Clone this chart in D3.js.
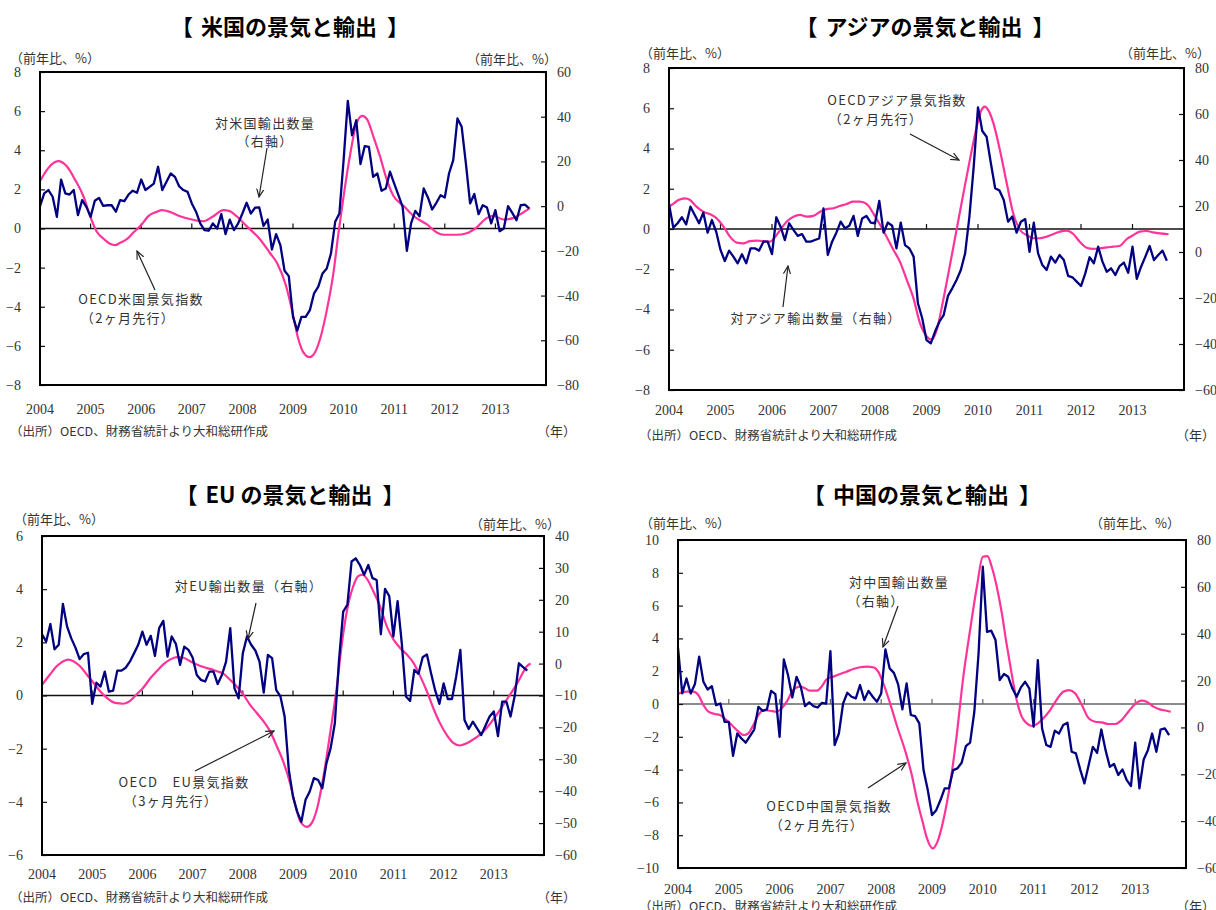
<!DOCTYPE html>
<html><head><meta charset="utf-8">
<script src="https://cdn.jsdelivr.net/npm/d3@7"></script>
<style>
body{margin:0;background:#fff;}
svg text{font-family:"Liberation Serif","DejaVu Serif",serif;fill:#333;}
svg text.jp{font-family:"Noto Sans CJK JP","Noto Sans",sans-serif;}
</style></head><body>
<svg id="c" width="1216" height="910"></svg>
<script>
// ---------- data ----------
const years = [2004,2005,2006,2007,2008,2009,2010,2011,2012,2013];

// monthly export volume y/y (right axis), Jan 2004 onward
const usExports = [0,5.7,7.2,4.2,-4.8,11.9,5.7,5.2,7.2,-4,
 2.7,-0.3,-4.8,2.4,3.7,0.1,0.4,0.4,-2.5,2.7,
 2.2,5.2,6.9,6,11.9,7.2,8.6,10.1,17.6,7.2,
 10.9,14.6,13.1,8.9,7.2,6.4,1.2,-2.5,-7.7,-10.7,
 -11,-7.7,-10,-3.6,-12.5,-6,-10.7,-7.7,-3.3,1.5,
 -3.3,-0.7,-0.6,-8.8,-6,-19.4,-12.5,-17.4,-28.9,-31.3,
 -49.5,-55.7,-49.5,-49.5,-46.5,-39,-36,-30.1,-27.9,-21.2,
 -7,-3.3,20.6,47.1,31.7,38.4,18.8,26.8,26.5,13.1,
 14.6,6.9,7.9,15.4,10.1,4.9,-0.3,-20,-7.7,-2.1,
 -4.5,7.9,3.9,-1.5,1.5,4.9,3.9,14.6,20.6,39.2,
 35.5,19.1,1.2,5.4,-3.6,0.4,-0.6,-7.7,-1.8,-11.2,
 -10,0,-3,-6.3,0.4,0.7,-1];

const asiaExports = [20.9,10.6,12.5,15.1,12,19.7,16.1,12.5,17.1,8.4,
 13.9,8.8,0.9,-3.9,0.6,-2,-4.9,-1,-4.9,1.6,
 1.6,0.6,4.5,4.5,-0.9,15.1,11,5.2,12.5,9.6,
 7,7.8,4.5,4.5,5.2,5.9,19,-1.3,4.5,8.4,
 13.2,10.3,11.4,15.7,7,14.6,15.7,12.8,12.5,22.2,
 8.4,12.8,11.4,1.6,12.8,3,1.6,-2,-22.3,-28.8,
 -38.3,-39.7,-34.6,-30.3,-27.4,-19.1,-15.8,-12.2,-7.8,-0.6,
 15.4,37.1,62.9,52.6,50.1,38.6,27.7,26.7,22.6,13.2,
 15.4,8.4,13.2,14.3,0.1,12.8,-0.6,-5.7,-7.8,-2,
 -4.6,-1.3,-3.5,-10.4,-11,-12.9,-14.8,-9.3,-2.3,-4.9,
 2.3,-4.2,-8.6,-7.1,-10,-6.1,-4.6,-9,2.3,-11.7,
 -6.4,-2,2.6,-3.5,-1.3,0.6,-3.8];

const euExports = [9.2,6.9,12.4,4.5,5.9,18.7,11.6,7.9,5,1.4,
 3,3.4,-12.6,-6,-7.2,-2.5,-8.8,-8.5,-2.2,-2.2,
 -1.3,0.6,3.2,5.9,10,5.9,8.7,2.4,11.1,13.4,
 2.2,8.5,6.2,-0.4,5.3,4.3,1.9,-3.6,-5.1,-5.6,
 -2.5,-2.5,-6.4,-3.6,0.6,11.1,-7.7,-10.9,3.2,8.5,
 5.9,4.1,0.6,-9.1,2.7,1.7,-8.3,-10.3,-16.6,-33.3,
 -41.7,-46.4,-49.6,-42.7,-40.1,-35.9,-36.5,-39.1,-31.2,-26.5,
 -18.7,1.1,16.3,18.4,32,33,30.9,27.8,30.9,26.8,
 26.2,9.2,23.4,21.2,8.5,19.6,6.4,-10.3,-11.7,-2,
 -3.2,2,2.9,-3,-8.5,-12.6,-6.2,-11.1,-11.1,-4.1,
 4.3,-17.7,-20.5,-18.2,-20.3,-22.4,-19.5,-16.6,-15,-22.7,
 -11.9,-11.9,-16.6,-10.1,0.1,-1.1,-2.2];

const chinaExports = [34.1,14.5,20.9,14.5,18.5,30.2,19.5,16.2,17.6,9.5,
 10.2,2.4,2.4,-12.1,-2.6,-4.7,-6.5,-3.7,-0.9,8.8,
 7.1,7.7,15.6,14.2,-4,29,22.3,12.8,21.6,17.4,
 9.1,10.7,9.1,8.5,10.5,10.2,32.6,-7.5,-2.6,10.2,
 14.8,13.1,12.4,18.1,11.7,15.6,13.1,11,14.5,33.3,
 25.2,23.3,18.4,7.7,18.8,5.3,4.8,1.7,-18.2,-26.7,
 -37.4,-35.3,-31,-26,-26,-18.2,-17.5,-15.1,-8,-6.5,
 6.7,31.6,68.6,40.8,41.3,37.3,20.2,22.8,21.6,16.6,
 13.1,17.1,19.5,16.6,0.3,28.7,-0.4,-7.5,-8.3,-1.4,
 -2.6,1,2,-10.4,-11.1,-17.9,-23.9,-16.1,-8.3,-10.8,
 -0.9,-9.7,-16.8,-15.6,-20.3,-17.9,-22.5,-25,-6.5,-26,
 -13.7,-9.7,-2.6,-10.4,-0.9,-0.4,-3.3];

// OECD leading indicator readings (left axis): [month index from Jan 2004, value]
const usCLI = [[0,2.42],[2,3.1],[4.3,3.44],[6.3,3.19],[8.3,2.5],[10.3,1.65],[11.9,0.63],[13.4,-0.14],[15,-0.51],[16.6,-0.78],[17.8,-0.85],[19,-0.73],[20.5,-0.56],[22.1,-0.22],[24.1,0.2],[25.7,0.63],[27.7,0.85],[28.9,0.94],[30.8,0.85],[33.2,0.63],[36,0.46],[38.7,0.37],[41.1,0.63],[43.5,0.94],[45,0.89],[46.6,0.63],[49,0.12],[52.2,-0.56],[54.5,-1.24],[56.3,-1.8],[58.3,-2.9],[59.8,-4.2],[61.2,-5.6],[62.5,-6.35],[63.9,-6.58],[64.8,-6.47],[66.4,-5.66],[67.9,-4.3],[69.6,-2.26],[70.8,-0.2],[71.9,1.5],[73.5,3.71],[75.1,5.4],[76.4,5.76],[77.6,5.57],[79,4.74],[80.6,3.71],[82.2,2.52],[83.8,1.67],[86.2,1.16],[88.5,0.65],[91.7,0.22],[94.1,-0.2],[95.7,-0.32],[98.8,-0.32],[101.2,-0.24],[103.5,0.05],[105.9,0.53],[107.5,0.65],[109.9,0.46],[112.2,0.53],[114.6,0.82],[116.2,1.04]];

const asiaCLI = [[0,1.12],[0.6,1.19],[2.2,1.44],[3.7,1.52],[4.9,1.44],[6.4,1.11],[8,0.86],[9.6,0.73],[11.1,0.53],[12.7,0.12],[14.2,-0.38],[15.8,-0.68],[17.3,-0.71],[18.9,-0.6],[20.4,-0.58],[22,-0.6],[23.5,-0.63],[24.5,-0.46],[25.9,-0.05],[27.4,0.36],[29,0.61],[30.5,0.7],[32.1,0.61],[33.6,0.65],[35.2,0.86],[36.7,0.99],[38.3,1.03],[39.8,1.14],[41.4,1.24],[42.9,1.36],[44.5,1.36],[46.1,1.24],[47.6,0.78],[49.2,0.2],[50.7,-0.38],[52.3,-1.04],[53.8,-1.62],[55.4,-2.53],[56.9,-3.4],[58.5,-4.69],[60.1,-5.35],[61.2,-5.5],[62.4,-5.0],[63.9,-3.53],[65.4,-1.87],[67,-0.05],[68.6,1.77],[70.1,3.43],[71.7,5.08],[72.8,5.91],[73.6,6.08],[74.4,5.91],[75.6,5.25],[77.1,3.92],[78.7,2.27],[80.2,0.78],[81.8,-0.05],[83.3,-0.3],[84.9,-0.46],[86.4,-0.46],[88,-0.38],[89.5,-0.26],[91.1,-0.13],[92.7,-0.08],[94.2,-0.25],[95.7,-0.63],[97.3,-0.93],[98.9,-0.99],[100.4,-0.96],[102,-0.91],[103.5,-0.88],[105.1,-0.83],[106.6,-0.51],[108.2,-0.3],[109.7,-0.13],[111.3,-0.1],[112.8,-0.17],[114.4,-0.22],[116.4,-0.26]];

const euCLI = [[0,0.4],[1.9,0.79],[3.5,1.1],[5.1,1.29],[6.3,1.35],[7.5,1.29],[9.1,1.1],[10.7,0.79],[12.3,0.48],[13.9,0.16],[15.5,-0.09],[17.5,-0.28],[19.4,-0.31],[21,-0.21],[22.6,0.04],[24.2,0.29],[25.8,0.63],[27.4,0.91],[29,1.17],[30.6,1.35],[32.2,1.44],[33.8,1.42],[35.4,1.29],[37,1.17],[38.6,1.07],[40.2,1],[41.8,0.91],[43.3,0.83],[44.9,0.6],[46.5,0.35],[48.1,0.04],[49.7,-0.34],[51.3,-0.65],[52.9,-0.96],[54.5,-1.34],[56.1,-1.9],[57.7,-2.5],[59.3,-3.3],[60.5,-4.1],[61.7,-4.72],[63.3,-4.94],[64.5,-4.79],[65.7,-4.29],[67.3,-3.03],[68.9,-1.4],[70.5,0.35],[71.6,1.85],[72.8,3.11],[74.4,4.11],[75.6,4.49],[76.6,4.55],[77.8,4.36],[79.2,3.92],[80.8,3.36],[82.4,2.61],[84,2.11],[85.6,1.79],[87.2,1.54],[88.8,1.23],[90.4,0.73],[92,0.16],[93.5,-0.46],[95.1,-1.03],[96.7,-1.47],[98.3,-1.78],[99.9,-1.88],[101.5,-1.8],[103.1,-1.65],[104.7,-1.47],[106.3,-1.22],[107.9,-0.9],[109.5,-0.53],[111.1,-0.15],[112.7,0.23],[114.3,0.66],[115.9,1.1],[116.8,1.2]];

const chinaCLI = [[0,0.62],[2,0.75],[3.6,0.75],[4.8,0.55],[6,-0.06],[7.2,-0.47],[8.7,-0.61],[9.9,-0.67],[11.1,-0.91],[12.7,-1.28],[14.3,-1.69],[15.6,-1.89],[16.6,-1.79],[17.8,-1.28],[19,-0.67],[20.2,-0.37],[21.7,-0.41],[23.3,-0.47],[24.5,-0.26],[25.7,0.14],[27.2,0.85],[28.8,1.06],[30,0.96],[31.2,0.81],[32.8,0.81],[33.9,1.06],[35.1,1.5],[36.7,1.67],[38.3,1.83],[39.8,1.97],[41.4,2.13],[43,2.24],[44.6,2.28],[46.1,2.24],[47.3,1.97],[48.5,1.26],[50.1,0.04],[51.8,-1.4],[53.6,-2.8],[55.2,-4.3],[56.6,-6.0],[57.8,-7.2],[58.7,-8.1],[60.2,-8.8],[61.3,-8.39],[62.7,-7.07],[64.3,-4.84],[65.8,-1.99],[67.4,1.67],[69,4.51],[70.6,7.15],[72,8.98],[73.1,9.02],[74.1,8.37],[75.3,7.15],[76.5,5.53],[77.6,3.7],[78.8,1.87],[80,0.24],[81.2,-0.77],[82.4,-1.18],[83.6,-1.34],[84.8,-1.22],[86.3,-0.87],[87.9,-0.37],[89.4,0.24],[91,0.75],[92.4,0.85],[93.8,0.65],[95.4,-0.06],[97,-0.87],[98.5,-1.08],[100.1,-1.12],[101.6,-1.22],[103.2,-1.22],[104.8,-0.98],[106.4,-0.47],[107.9,-0.02],[109.5,0.2],[110.7,0.14],[112.3,-0.16],[113.8,-0.33],[115.4,-0.41],[116.4,-0.47]];

// axis ranges [min, max, step]
const usLeft = [-8,8,2], usRight = [-80,60,20];
const asiaLeft = [-8,8,2], asiaRight = [-60,80,20];
const euLeft = [-6,6,2], euRight = [-60,40,10];
const chinaLeft = [-10,10,2], chinaRight = [-60,80,20];

const unitText = "（前年比、%）";
const sourceText = "（出所）OECD、財務省統計より大和総研作成";
const yearUnit = "（年）";

// ---------- layout ----------
const panels = [
 {title:"米国の景気と輸出", tx:290, ty:25, box:{l:40,r:546,t:72,b:385},
  left:usLeft, right:usRight, exp:usExports, cli:usCLI, zero:"#111",
  unitL:[10,57], unitR:[467,58], yearY:409, src:[10,430], yu:[576,430],
  notes:[{t:"対米国輸出数量",x:265,y:122},{t:"（右軸）",x:265,y:140},
         {t:"OECD米国景気指数",x:141,y:298},{t:"（2ヶ月先行）",x:128,y:317}],
  arrows:[[267,148,259,197],[155,290,137,251]]},
 {title:"アジアの景気と輸出", tx:925, ty:25, box:{l:669,r:1184,t:68,b:390},
  left:asiaLeft, right:asiaRight, exp:asiaExports, cli:asiaCLI, zero:"#111",
  unitL:[640,52], unitR:[1120,52], yearY:410, src:[639,434], yu:[1215,434],
  notes:[{t:"OECDアジア景気指数",x:897,y:99},{t:"（2ヶ月先行）",x:876,y:118},
         {t:"対アジア輸出数量（右軸）",x:816,y:317}],
  arrows:[[910,134,959,160],[783,307,788,266]]},
 {title:"EU の景気と輸出", tx:290, ty:493, box:{l:42,r:544,t:536,b:855},
  left:euLeft, right:euRight, exp:euExports, cli:euCLI, zero:"#111",
  unitL:[14,518], unitR:[470,523], yearY:874, src:[10,896], yu:[576,896],
  notes:[{t:"対EU輸出数量（右軸）",x:249,y:585},
         {t:"OECD　EU景気指数",x:184,y:781},{t:"（3ヶ月先行）",x:171,y:800}],
  arrows:[[256,603,248,639],[195,771,274,731]]},
 {title:"中国の景気と輸出", tx:922, ty:493, box:{l:678,r:1186,t:540,b:868},
  left:chinaLeft, right:chinaRight, exp:chinaExports, cli:chinaCLI, zero:"#666",
  unitL:[640,522], unitR:[1090,522], yearY:889, src:[639,905], yu:[1215,905],
  notes:[{t:"対中国輸出数量",x:899,y:581},{t:"（右軸）",x:876,y:600},
         {t:"OECD中国景気指数",x:829,y:805},{t:"（2ヶ月先行）",x:817,y:824}],
  arrows:[[898,606,883,647],[868,788,906,763]]}
];

const svg = d3.select("#c");
svg.append("defs").append("marker").attr("id","arr")
  .attr("viewBox","0 0 10 10").attr("refX",9).attr("refY",5)
  .attr("markerWidth",9).attr("markerHeight",9).attr("markerUnits","userSpaceOnUse")
  .attr("orient","auto")
  .append("path").attr("d","M0,1 L9,5 L0,9").attr("fill","none").attr("stroke","#222").attr("stroke-width",1.3);

const fmt = d3.format("d");

panels.forEach(p => {
  const g = svg.append("g");
  const b = p.box;
  const x = d3.scaleLinear().domain([0,120]).range([b.l,b.r]);
  const yL = d3.scaleLinear().domain([p.left[0],p.left[1]]).range([b.b,b.t]);
  const yR = d3.scaleLinear().domain([p.right[0],p.right[1]]).range([b.b,b.t]);

  // title with bracket spacing
  const tt = g.append("text").attr("class","jp").attr("x",p.tx).attr("y",p.ty)
    .attr("text-anchor","middle").attr("dominant-baseline","central")
    .style("font-size","22px").style("font-weight","bold").style("fill","#000");
  tt.append("tspan").text("【");
  tt.append("tspan").attr("dx",8).text(p.title);
  tt.append("tspan").attr("dx",10).text("】");

  // unit labels
  [p.unitL,p.unitR].forEach(u=>{
    g.append("text").attr("class","jp").attr("x",u[0]).attr("y",u[1])
      .attr("dominant-baseline","central").style("font-size","13px").text(unitText);
  });

  // zero line + year ticks
  g.append("line").attr("x1",b.l).attr("x2",b.r).attr("y1",yL(0)).attr("y2",yL(0))
    .attr("stroke",p.zero).attr("stroke-width",1.3);
  years.forEach((yr,i)=>{
    if(i===0) return;
    g.append("line").attr("x1",x(i*12)).attr("x2",x(i*12))
      .attr("y1",yL(0)).attr("y2",yL(0)-5).attr("stroke",p.zero).attr("stroke-width",1.2);
  });

  // axes
  const axL = d3.axisLeft(yL).tickValues(d3.range(p.left[0],p.left[1]+0.001,p.left[2]))
    .tickSizeInner(-5).tickSizeOuter(0).tickPadding(19).tickFormat(fmt);
  const gl = g.append("g").attr("transform",`translate(${b.l},0)`).call(axL);
  const axR = d3.axisRight(yR).tickValues(d3.range(p.right[0],p.right[1]+0.001,p.right[2]))
    .tickSizeInner(-5).tickSizeOuter(0).tickPadding(11).tickFormat(fmt);
  const gr = g.append("g").attr("transform",`translate(${b.r},0)`).call(axR);
  [gl,gr].forEach(a=>{
    a.select(".domain").remove();
    a.selectAll(".tick line").attr("stroke","#111").attr("stroke-width",1.2);
    a.selectAll(".tick text").style("font-size","14px").style("font-family","'Liberation Serif',serif").attr("fill","#333");
  });

  // year labels
  years.forEach((yr,i)=>{
    g.append("text").attr("x",x(i*12)).attr("y",p.yearY).attr("text-anchor","middle")
      .attr("dominant-baseline","central").style("font-size","14px").text(yr);
  });

  // source + year unit
  g.append("text").attr("class","jp").attr("x",p.src[0]).attr("y",p.src[1])
    .attr("dominant-baseline","central").style("font-size","12px")
    .attr("textLength",258).attr("lengthAdjust","spacingAndGlyphs").text(sourceText);
  g.append("text").attr("class","jp").attr("x",p.yu[0]).attr("y",p.yu[1])
    .attr("text-anchor","end")
    .attr("dominant-baseline","central").style("font-size","13px").text(yearUnit);

  // series
  const lineCLI = d3.line().x(d=>x(d[0])).y(d=>yL(d[1])).curve(d3.curveMonotoneX);
  const lineExp = d3.line().x((d,i)=>x(i)).y(d=>yR(d));
  g.append("path").datum(p.cli).attr("d",lineCLI).attr("fill","none")
    .attr("stroke","#ff3399").attr("stroke-width",2.2).attr("stroke-linejoin","round");
  g.append("path").datum(p.exp).attr("d",lineExp).attr("fill","none")
    .attr("stroke","#000080").attr("stroke-width",2.3).attr("stroke-linejoin","round");

  // annotations
  p.notes.forEach(n=>{
    g.append("text").attr("class","jp").attr("x",n.x).attr("y",n.y)
      .attr("text-anchor","middle").attr("dominant-baseline","central")
      .style("font-size","13px").style("letter-spacing","1.3px").style("fill","#333").text(n.t);
  });
  p.arrows.forEach(a=>{
    g.append("line").attr("x1",a[0]).attr("y1",a[1]).attr("x2",a[2]).attr("y2",a[3])
      .attr("stroke","#222").attr("stroke-width",1.2).attr("marker-end","url(#arr)");
  });

  // frame
  g.append("rect").attr("x",b.l).attr("y",b.t).attr("width",b.r-b.l).attr("height",b.b-b.t)
    .attr("fill","none").attr("stroke","#000").attr("stroke-width",2);
});
</script>
</body></html>
